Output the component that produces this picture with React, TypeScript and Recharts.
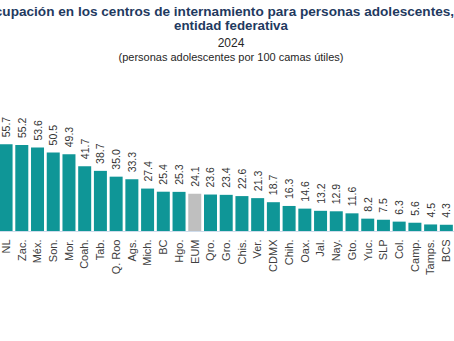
import { Bar, BarChart, Cell, XAxis, YAxis } from "recharts";

const estados = [
  "NL", "Zac.", "Méx.", "Son.", "Mor.", "Coah.", "Tab.", "Q. Roo", "Ags.", "Mich.",
  "BC", "Hgo.", "EUM", "Qro.", "Gro.", "Chis.", "Ver.", "CDMX", "Chih.", "Oax.",
  "Jal.", "Nay.", "Gto.", "Yuc.", "SLP", "Col.", "Camp.", "Tamps.", "BCS",
];
const ocupacion = [
  55.7, 55.2, 53.6, 50.5, 49.3, 41.7, 38.7, 35.0, 33.3, 27.4,
  25.4, 25.3, 24.1, 23.6, 23.4, 22.6, 21.3, 18.7, 16.3, 14.6,
  13.2, 12.9, 11.6, 8.2, 7.5, 6.3, 5.6, 4.5, 4.3,
];
const nacional = "EUM";

const data = estados.map((name, i) => ({ name, value: ocupacion[i] }));

const TEAL = "#0f9697";
const GRAY = "#bfbfbf";
const FONT = "'Liberation Sans', Arial, sans-serif";

function ValueLabel(props: any) {
  const { x, y, width, value } = props;
  const cx = x + width / 2;
  const cy = y - 7;
  return (
    <text
      x={cx}
      y={cy}
      transform={`rotate(-90, ${cx}, ${cy})`}
      textAnchor="start"
      dominantBaseline="central"
      fontSize={10.5}
      fontFamily={FONT}
      fill="#333333"
    >
      {Number(value).toFixed(1)}
    </text>
  );
}

function CatTick(props: any) {
  const { x, y, payload } = props;
  const ty = y + 8;
  return (
    <text
      x={x}
      y={ty}
      transform={`rotate(-90, ${x}, ${ty})`}
      textAnchor="end"
      dominantBaseline="central"
      fontSize={11}
      fontFamily={FONT}
      fill="#404040"
    >
      {payload.value}
    </text>
  );
}

export default function App() {
  return (
    <div
      style={{
        position: "fixed",
        left: 0,
        top: 0,
        width: 454,
        height: 341,
        overflow: "hidden",
        background: "#fff",
        fontFamily: FONT,
      }}
    >
      <svg width={454} height={70} style={{ position: "absolute", left: 0, top: 0 }}>
        <text x={232} y={16} textAnchor="middle" fontSize={13.6} fontWeight="bold" fill="#1f3a5f">
          Ocupación en los centros de internamiento para personas adolescentes, por
        </text>
        <text x={231} y={30} textAnchor="middle" fontSize={13.3} fontWeight="bold" fill="#1f3a5f">
          entidad federativa
        </text>
        <text x={231} y={47} textAnchor="middle" fontSize={12} fill="#262626">
          2024
        </text>
        <text x={231} y={61} textAnchor="middle" fontSize={11} fill="#262626">
          (personas adolescentes por 100 camas útiles)
        </text>
      </svg>
      <div style={{ position: "absolute", left: -2, top: 0 }}>
        <BarChart
          width={456}
          height={341}
          data={data}
          margin={{ top: 137.5, right: 0, bottom: 0, left: 0 }}
          barCategoryGap="10%"
        >
          <XAxis
            dataKey="name"
            interval={0}
            height={109.5}
            tickLine={false}
            tickSize={0}
            tickMargin={0}
            axisLine={{ stroke: "#cfdcec", strokeWidth: 1 }}
            tick={<CatTick />}
          />
          <YAxis hide domain={[0, 60]} />
          <Bar dataKey="value" isAnimationActive={false} label={(p: any) => <ValueLabel {...p} />}>
            {data.map((d) => (
              <Cell key={d.name} fill={d.name === nacional ? GRAY : TEAL} />
            ))}
          </Bar>
        </BarChart>
      </div>
    </div>
  );
}
